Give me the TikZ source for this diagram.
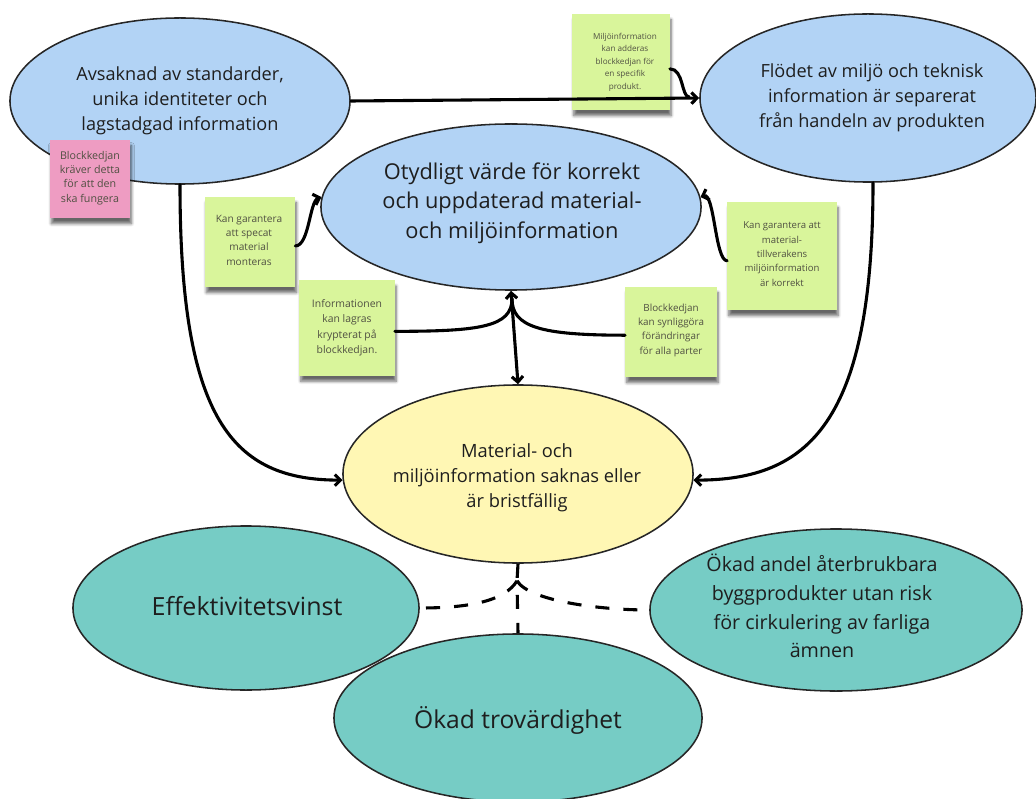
\documentclass[tikz,border=0pt]{standalone}
\usepackage{fontspec}
\setmainfont{Open Sans}
\usetikzlibrary{shapes.geometric,arrows.meta,shadows.blur,calc}

\definecolor{bluefill}{RGB}{178,211,245}
\definecolor{yellowfill}{RGB}{255,247,180}
\definecolor{tealfill}{RGB}{118,204,197}
\definecolor{stickygreen}{RGB}{217,245,155}
\definecolor{stickypink}{RGB}{238,156,194}
\definecolor{stickytext}{RGB}{80,80,66}
\definecolor{inktext}{RGB}{30,30,30}

\begin{document}
\begin{tikzpicture}[
  x=0.025cm, y=0.025cm,
  bubble/.style={ellipse, draw=black!85, line width=1.1pt, inner sep=0pt},
  etext/.style={align=center, text=inktext},
  sticky/.style={rectangle, fill=stickygreen, draw=none, inner sep=0pt,
    blur shadow={shadow xshift=1pt, shadow yshift=-4pt, shadow opacity=60, shadow blur steps=6}},
  stext/.style={align=center, text=stickytext},
  conn/.style={line width=2.2pt, black, line cap=round},
  arr/.style={conn, -{Straight Barb[length=4pt,width=8pt]}},
  twoway/.style={conn, {Straight Barb[length=4pt,width=8pt]}-{Straight Barb[length=4pt,width=8pt]}},
  dashline/.style={line width=2.2pt, black, dash pattern=on 10pt off 10pt}
]
\useasboundingbox (0,0) rectangle (1036,-799);

% ---- problem bubbles ----
\node[bubble, fill=bluefill, minimum width=8.5cm, minimum height=4.15cm] (A) at (180,-101) {};
\node[etext, font=\fontsize{12.9}{17.7}\selectfont] at (180,-101)
  {Avsaknad av standarder,\\unika identiteter och\\lagstadgad information};

\node[bubble, fill=bluefill, minimum width=8.4cm, minimum height=4.2cm] (B) at (868,-98) {};
\node[etext, font=\fontsize{12.9}{17.7}\selectfont] at (872,-98)
  {Flödet av miljö och teknisk\\information är separerat\\från handeln av produkten};

\node[bubble, fill=bluefill, minimum width=9.5cm, minimum height=4.15cm] (M) at (511,-207) {};
\node[etext, font=\fontsize{15.5}{20.9}\selectfont] at (512,-203)
  {Otydligt värde för korrekt\\och uppdaterad material-\\och miljöinformation};

\node[bubble, fill=yellowfill, minimum width=8.75cm, minimum height=4.45cm] (Y) at (518,-474) {};
\node[etext, font=\fontsize{13}{17.7}\selectfont] at (517,-478)
  {Material- och\\miljöinformation saknas eller\\är bristfällig};

% ---- outcome bubbles ----
\node[bubble, fill=tealfill, minimum width=8.65cm, minimum height=4.1cm] (E) at (246,-608) {};
\node[etext, font=\fontsize{17.8}{22}\selectfont] at (247,-606) {Effektivitetsvinst};

\node[bubble, fill=tealfill, minimum width=9.3cm, minimum height=4.05cm] (R) at (836,-610) {};
\node[etext, font=\fontsize{14}{20.5}\selectfont] at (822,-606)
  {Ökad andel återbrukbara\\byggprodukter utan risk\\för cirkulering av farliga\\ämnen};

\node[bubble, fill=tealfill, minimum width=9.2cm, minimum height=4.2cm] (T) at (518,-718) {};
\node[etext, font=\fontsize{17.5}{22}\selectfont] at (518,-720) {Ökad trovärdighet};

% ---- sticky notes ----
\node[sticky, minimum width=2.43cm, minimum height=2.4cm] (N1) at (621,-62) {};
\node[stext, font=\fontsize{5.8}{8.9}\selectfont] at (625,-62)
  {Miljöinformation\\kan adderas\\blockkedjan för\\en specifik\\produkt.};

\node[sticky, fill=stickypink, minimum width=2.0cm, minimum height=1.95cm] (P) at (90,-179) {};
\node[stext, font=\fontsize{7.6}{10.2}\selectfont] at (90,-178)
  {Blockkedjan\\kräver detta\\för att den\\ska fungera};

\node[sticky, minimum width=2.25cm, minimum height=2.25cm] (S1) at (250,-242) {};
\node[stext, font=\fontsize{7.2}{10.2}\selectfont] at (249,-240)
  {Kan garantera\\att specat\\material\\monteras};

\node[sticky, minimum width=2.73cm, minimum height=2.7cm] (S2) at (782,-256) {};
\node[stext, font=\fontsize{6.8}{10.2}\selectfont] at (782,-254)
  {Kan garantera att\\material-\\tillverakens\\miljöinformation\\är korrekt};

\node[sticky, minimum width=2.38cm, minimum height=2.38cm] (I1) at (347,-328) {};
\node[stext, font=\fontsize{7.4}{11}\selectfont] at (347,-328)
  {Informationen\\kan lagras\\krypterat på\\blockkedjan.};

\node[sticky, minimum width=2.28cm, minimum height=2.25cm] (B2) at (671,-332) {};
\node[stext, font=\fontsize{7}{10.2}\selectfont] at (671,-330)
  {Blockkedjan\\kan synliggöra\\förändringar\\för alla parter};

% ---- connectors ----
\draw[arr] (A.east) -- (B.west);
\coordinate (J1) at ($(B.west)+(-10,1)$);
\draw[conn] (N1.-8) .. controls +(14,0) and +(-8,0) .. (J1);

\draw[arr] (A.south) .. controls +(0,-235) and +(-110,0) .. (Y.182);
\draw[arr] ($(B.south)+(5,0)$) .. controls +(0,-240) and +(115,0) .. (Y.-2);

\draw[arr] (S1.-5) .. controls +(14,0) and +(-12,-4) .. (M.177);
\draw[arr] (S2.185) .. controls +(-12,0) and +(14,5) .. (M.3);

\coordinate (K) at ($(M.south)+(1,-8)$);
\draw[conn] (I1.-4) .. controls +(85,0) and +(0,-28) .. (K);
\draw[conn] (B2.184) .. controls +(-85,0) and +(0,-28) .. (K);
\draw[twoway] (M.south) -- (Y.north);

% ---- dashed links to the outcomes ----
\coordinate (D) at ($(Y.south)+(-1,-17)$);
\draw[dashline] (Y.south) -- (D);
\draw[dashline, dash phase=10pt] (D) -- (T.north);
\draw[dashline] (D) .. controls +(-12,-20) and +(50,0) .. (E.east);
\draw[dashline] (D) .. controls +(12,-20) and +(-50,0) .. (R.west);
\end{tikzpicture}
\end{document}
